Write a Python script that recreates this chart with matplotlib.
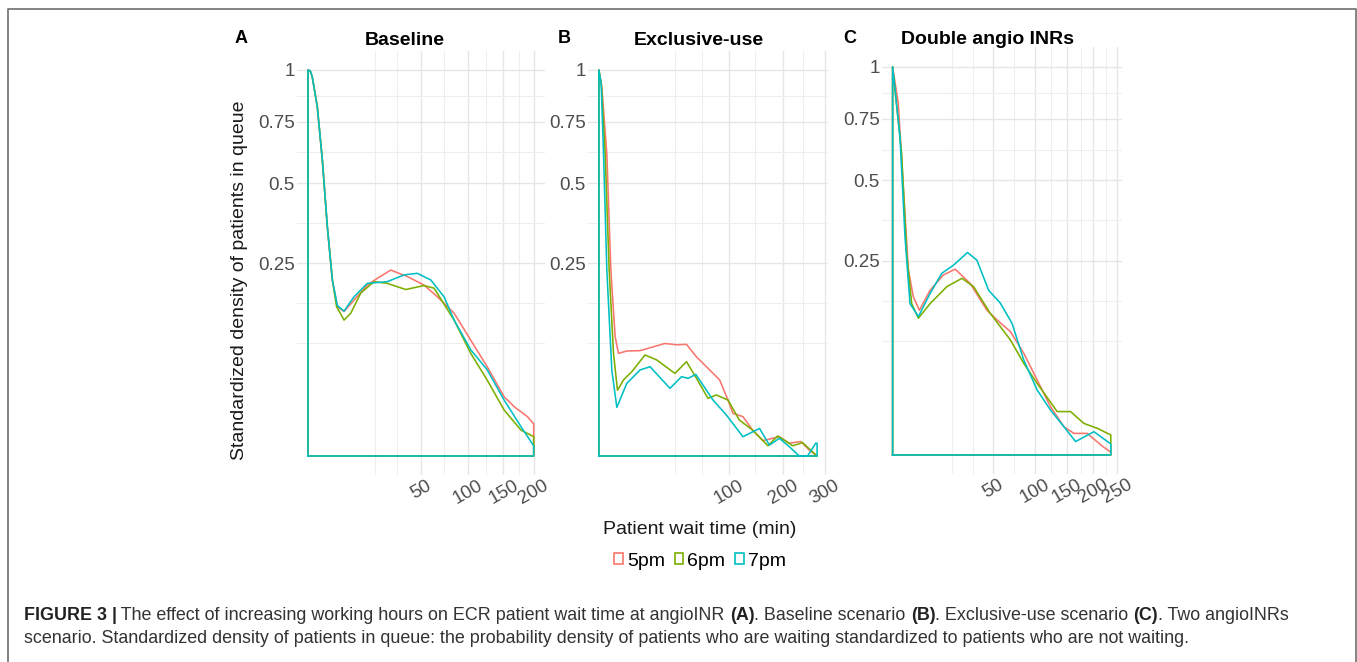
import numpy as np
import matplotlib.pyplot as plt
from matplotlib.patches import Patch
from matplotlib.lines import Line2D

plt.rcParams['font.family'] = ['Liberation Sans', 'DejaVu Sans']

W, H = 1357, 662

# series names and colours (ggplot defaults)
labels = ['5pm', '6pm', '7pm']
colors = ['#F8766D', '#7CAE00', '#00BFC4']

# ---- panel A: Baseline ----
a_5pm_x = [0, 0.02, 0.07, 0.34, 0.81, 1.47, 2.33, 3.38, 5.1, 8.3, 13.8, 18.9, 26.9, 38.8, 52.9, 65.8, 83.8, 104, 126, 151, 167, 189, 200]
a_5pm_y = [1, 0.995, 0.966, 0.819, 0.588, 0.353, 0.208, 0.150, 0.140, 0.163, 0.196, 0.212, 0.232, 0.216, 0.196, 0.170, 0.137, 0.090, 0.0536, 0.0235, 0.0163, 0.0104, 0.0069]
a_6pm_x = [0, 0.02, 0.07, 0.34, 0.81, 1.47, 2.33, 3.2, 5.1, 7.2, 10.9, 17.1, 24.7, 37.5, 52.9, 62.4, 83.8, 104, 126, 151, 178, 200]
a_6pm_y = [1, 0.995, 0.966, 0.819, 0.588, 0.353, 0.208, 0.150, 0.124, 0.137, 0.178, 0.204, 0.200, 0.186, 0.195, 0.189, 0.124, 0.0707, 0.0388, 0.0142, 0.0045, 0.0025]
a_7pm_x = [0, 0.02, 0.07, 0.34, 0.81, 1.47, 2.33, 3.38, 5.1, 8.3, 13.8, 24.7, 36.2, 46.9, 59.2, 72.7, 83.8, 104, 126, 151, 178, 200]
a_7pm_y = [1, 0.995, 0.966, 0.819, 0.588, 0.353, 0.208, 0.152, 0.141, 0.170, 0.200, 0.204, 0.220, 0.224, 0.208, 0.170, 0.124, 0.0757, 0.050, 0.021, 0.0058, 0.0007]

# ---- panel B: Exclusive-use ----
b_5pm_x = [0, 0.05, 0.37, 0.84, 1.55, 2.25, 4.57, 9.95, 17.4, 25.6, 35.4, 45.1, 56, 72.2, 85.8, 98, 105.7, 122, 139, 158, 178, 191.6, 213, 240, 260, 280]
b_5pm_y = [1, 0.915, 0.611, 0.232, 0.0956, 0.0707, 0.074, 0.0745, 0.080, 0.085, 0.083, 0.0837, 0.066, 0.0497, 0.0388, 0.021, 0.0122, 0.0104, 0.0045, 0.0016, 0.0021, 0.0025, 0.0011, 0.0014, 0.00024, 0.0]
b_6pm_x = [0, 0.04, 0.23, 0.62, 1.25, 2.03, 3.55, 6.35, 12.5, 19.6, 34, 45.1, 56, 70, 81, 98, 116, 139, 168, 188, 221, 244, 280]
b_6pm_y = [1, 0.92, 0.611, 0.232, 0.0707, 0.029, 0.0388, 0.0477, 0.0685, 0.062, 0.0458, 0.0597, 0.0405, 0.0223, 0.025, 0.021, 0.0087, 0.0045, 0.0007, 0.0027, 0.0007, 0.0012, 0.0]
b_7pm_x = [0, 0.03, 0.127, 0.37, 0.98, 1.89, 4.57, 9.95, 15.4, 29.7, 40.1, 46.8, 55.2, 76.6, 95.5, 122, 151.7, 171, 191.6, 215, 236, 256, 276.6, 280]
b_7pm_y = [1, 0.93, 0.611, 0.232, 0.0497, 0.0159, 0.0354, 0.0497, 0.0535, 0.0307, 0.0422, 0.0405, 0.0447, 0.021, 0.0113, 0.0025, 0.0051, 0.0008, 0.0021, 0.0005, 0.0, 0.0, 0.0011, 0.0011]

# ---- panel C: Double angio INRs ----
c_5pm_x = [0, 0.16, 0.57, 1.23, 2.13, 3.55, 6.96, 12.8, 19.4, 29.9, 44.1, 54, 68.8, 85.3, 103.6, 123.6, 145.5, 163, 188, 215, 236]
c_5pm_y = [1, 0.820, 0.477, 0.227, 0.166, 0.139, 0.180, 0.215, 0.229, 0.195, 0.139, 0.121, 0.101, 0.0686, 0.0373, 0.0155, 0.0053, 0.0031, 0.0031, 0.00066, 0.00005]
c_6pm_x = [0, 0.40, 0.98, 1.8, 3.29, 6.96, 14.6, 23.8, 32.5, 47.3, 68.8, 85.3, 103.6, 134.3, 157, 181.5, 208, 236]
c_6pm_y = [1, 0.603, 0.270, 0.152, 0.124, 0.152, 0.188, 0.207, 0.188, 0.133, 0.0877, 0.0557, 0.034, 0.0125, 0.0125, 0.0066, 0.0047, 0.00265]
c_7pm_x = [0, 0.27, 0.76, 1.5, 3.29, 6.96, 12.0, 18.4, 27.8, 35.2, 45.7, 57.5, 70.7, 85.3, 103.6, 123.6, 145.5, 166, 201, 236]
c_7pm_y = [1, 0.672, 0.316, 0.152, 0.127, 0.173, 0.219, 0.239, 0.272, 0.252, 0.180, 0.153, 0.115, 0.0598, 0.028, 0.0134, 0.0053, 0.0012, 0.0036, 0.0008]

# axis breaks
y_major = [0.25, 0.5, 0.75, 1]
y_major_labels = ['0.25', '0.5', '0.75', '1']
y_minor = [0.086, 0.158, 0.365, 0.619, 0.870]
a_x_major = [50, 100, 150, 200]
a_x_minor = [17.5, 31.4, 72.7, 124, 175]
b_x_major = [100, 200, 300]
b_x_minor = [34, 62.5, 144, 244]
c_x_major = [50, 100, 150, 200, 250]
c_x_minor = [17.5, 32, 73, 124, 176, 225]

titles = ['Baseline', 'Exclusive-use', 'Double angio INRs']
letters = ['A', 'B', 'C']


def fwd(v):
    v = np.asarray(v, dtype=float)
    return np.sign(v) * np.sqrt(np.abs(v))


def inv(v):
    v = np.asarray(v, dtype=float)
    return np.sign(v) * v ** 2


def fx(x):
    return x / W


def fy(y):
    return 1 - y / H


fig = plt.figure(figsize=(W / 100, H / 100), dpi=100)

panels = [
    ([296.7, 50.7, 545.0, 475.3], [(a_5pm_x, a_5pm_y), (a_6pm_x, a_6pm_y), (a_7pm_x, a_7pm_y)], a_x_major, a_x_minor),
    ([588.0, 50.7, 828.0, 475.3], [(b_5pm_x, b_5pm_y), (b_6pm_x, b_6pm_y), (b_7pm_x, b_7pm_y)], b_x_major, b_x_minor),
    ([881.7, 47.3, 1121.7, 474.4], [(c_5pm_x, c_5pm_y), (c_6pm_x, c_6pm_y), (c_7pm_x, c_7pm_y)], c_x_major, c_x_minor),
]

for box, series, xmaj, xmin_ in panels:
    x0, y0, x1, y1 = box
    ax = fig.add_axes([fx(x0), fy(y1), (x1 - x0) / W, (y1 - y0) / H])
    ax.set_xscale('function', functions=(fwd, inv))
    ax.set_yscale('function', functions=(fwd, inv))

    for (xs, ys), c in zip(series, colors):
        # density outline: up the left edge, along the curve, down and back along the bottom
        px = [xs[0]] + list(xs) + [xs[-1], xs[0]]
        py = [0] + list(ys) + [0, 0]
        ax.plot(px, py, color=c, lw=1.15, solid_joinstyle='round', clip_on=False, zorder=3)

    xmax = max(s[0][-1] for s in series)
    pad = 0.05 * float(fwd(xmax))
    ax.set_xlim(float(inv(-pad)), float(inv(fwd(xmax) + pad)))
    ax.set_ylim(float(inv(-0.05)), float(inv(1.05)))

    ax.set_xticks(xmaj)
    ax.set_xticklabels([str(v) for v in xmaj], rotation=30, ha='center')
    ax.set_xticks(xmin_, minor=True)
    ax.set_yticks(y_major)
    ax.set_yticklabels(y_major_labels)
    ax.set_yticks(y_minor, minor=True)
    ax.tick_params(which='both', length=0)
    ax.tick_params(axis='both', labelsize=13.5, labelcolor='#4d4d4d', pad=1.5)
    ax.grid(which='major', color='#e6e6e6', lw=1.0)
    ax.grid(which='minor', color='#eeeeee', lw=0.8)
    ax.set_axisbelow(True)
    for s in ax.spines.values():
        s.set_visible(False)

# panel titles and letters
title_pos = [(405, 45), (699, 45), (987.5, 44.3)]
letter_pos = [(241.5, 42.7), (564.5, 42.7), (849.5, 42.7)]
for t, (tx, ty) in zip(titles, title_pos):
    fig.text(fx(tx), fy(ty), t, ha='center', va='baseline', fontsize=14, fontweight='bold', color='black')
for l, (lx, ly) in zip(letters, letter_pos):
    fig.text(fx(lx), fy(ly), l, ha='center', va='baseline', fontsize=13, fontweight='bold', color='black')

# shared axis titles
fig.text(fx(240), fy(280), 'Standardized density of patients in queue', rotation=90,
         ha='center', va='center', fontsize=14, color='#1a1a1a')
fig.text(fx(700), fy(529), 'Patient wait time (min)', ha='center', va='center', fontsize=14, color='#1a1a1a')

handles = [Patch(facecolor='none', edgecolor=c, lw=1.2, label=l) for l, c in zip(labels, colors)]
fig.legend(handles=handles, loc='center', bbox_to_anchor=(fx(700), fy(561)), ncol=3, frameon=False,
           fontsize=14, handlelength=0.45, handleheight=0.45, handletextpad=0.2, columnspacing=0.5)

# frame around figure
fig.add_artist(Line2D([fx(8), fx(8), fx(1355.5), fx(1355.5)], [0, fy(9), fy(9), 0],
                      transform=fig.transFigure, color='#7a7a7a', lw=1.3))

# caption with bold pieces
renderer = fig.canvas.get_renderer()
cap_size = 12.9
cap_lines = [
    [('FIGURE 3 |', True), (' The effect of increasing working hours on ECR patient wait time at angioINR ', False),
     ('(A)', True), ('. Baseline scenario ', False), ('(B)', True), ('. Exclusive-use scenario ', False),
     ('(C)', True), ('. Two angioINRs', False)],
    [('scenario. Standardized density of patients in queue: the probability density of patients who are waiting '
      'standardized to patients who are not waiting.', False)],
]
for line, base in zip(cap_lines, [620, 643]):
    cx = 23.5
    for txt, bold in line:
        t = fig.text(fx(cx), fy(base), txt, ha='left', va='baseline', fontsize=cap_size,
                     fontweight='bold' if bold else 'normal', color='#222222' if bold else '#333333')
        cx += t.get_window_extent(renderer=renderer).width

fig.savefig('out.png', dpi=100)
